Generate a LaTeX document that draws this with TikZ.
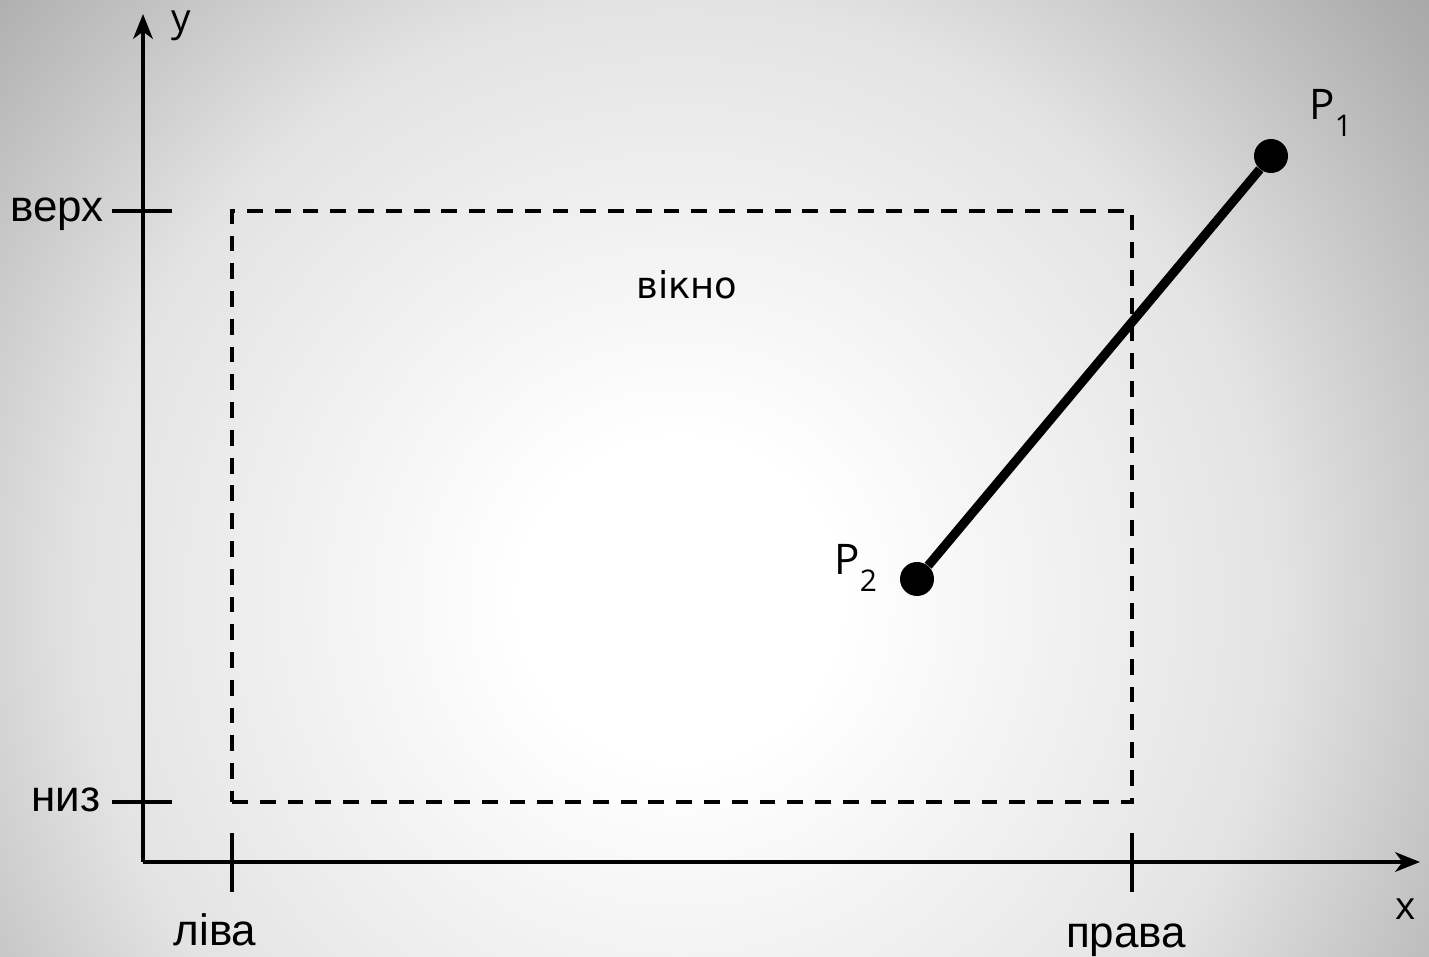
\documentclass[tikz,border=0pt]{standalone}
\usepackage{fontspec}
\setmainfont{Liberation Sans}
\newfontfamily\pfont{Open Sans}
\newfontfamily\winfont{DejaVu Sans}
\usetikzlibrary{arrows.meta, positioning}
\pgfdeclareradialshading{bgshade}{\pgfpoint{0bp}{0bp}}{color(0bp)=(white); color(4bp)=(white); color(15bp)=(black!11); color(23bp)=(black!32); color(25bp)=(black!36); color(50bp)=(black!36)}
\tikzset{
	axisline/.style={line width=2.5pt, -{Stealth[length=14pt, width=11pt, inset=4pt]}},
	tickline/.style={line width=2.5pt},
	winbox/.style={line width=2.2pt, dash pattern=on 9pt off 6.8pt},
	dotnode/.style={circle, fill=black, inner sep=0pt, minimum size=0.68cm},
	seglabel/.style={font=\pfont\fontsize{24}{28}\selectfont, inner sep=0pt, anchor=base west},
	ticklabel/.style={font=\fontsize{25}{29}\selectfont, inner sep=0pt},
}

\begin{document}
\begin{tikzpicture}[>=Stealth]
	\useasboundingbox (0,0) rectangle (28.58,19.14);

	% background
	\begin{scope}
		\clip (0,0) rectangle (28.58,19.14);
		\shade[shading=bgshade] (-6.4,-12.86) rectangle (33.6,27.14);
	\end{scope}

	% axes
	\coordinate (O) at (2.86,1.90);
	\coordinate (ytop) at (2.86,18.86);
	\coordinate (xend) at (28.40,1.90);
	\draw[axisline] (O) -- (ytop);
	\draw[axisline] (O) -- (xend);
	\node[font=\pfont\fontsize{22}{26}\selectfont, inner sep=0pt, anchor=base] (ylab) at (3.62,18.50) {y};
	\node[font=\pfont\fontsize{22}{26}\selectfont, inner sep=0pt, anchor=base] (xlab) at (28.12,0.74) {x};

	% ticks
	\coordinate (top1) at (2.24,14.92);
	\coordinate (top2) at (3.44,14.92);
	\coordinate (bot1) at (2.24,3.10);
	\coordinate (bot2) at (3.44,3.10);
	\coordinate (lft1) at (4.64,2.48);
	\coordinate (lft2) at (4.64,1.30);
	\coordinate (rgt1) at (22.64,2.48);
	\coordinate (rgt2) at (22.64,1.30);
	\draw[tickline] (top1) -- (top2);
	\draw[tickline] (bot1) -- (bot2);
	\draw[tickline] (lft1) -- (lft2);
	\draw[tickline] (rgt1) -- (rgt2);
	\node[ticklabel, anchor=base east] (verkh) at (2.08,14.70) {верх};
	\node[ticklabel, anchor=base east] (nyz) at (2.02,2.90) {низ};
	\node[ticklabel, anchor=base] (liva) at (4.30,0.24) {ліва};
	\node[ticklabel, anchor=base] (prava) at (22.52,0.20) {права};

	% window
	\node[winbox, draw, minimum width=18cm, minimum height=11.82cm, inner sep=0pt] (win) at (13.64,9.01) {};
	\node[font=\winfont\fontsize{21}{25}\selectfont, inner sep=0pt] (winlab) at (13.74,13.44) {вікно};

	% segment
	\node[dotnode] (p1) at (25.42,16.02) {};
	\node[dotnode] (p2) at (18.34,7.56) {};
	\draw[line width=5.2pt] (p1) -- (p2);
	\node[seglabel] (p1lab) at (26.18,16.74) {P\raisebox{-17\dimexpr 0.02cm\relax}{\fontsize{17}{20}\selectfont 1}};
	\node[seglabel] (p2lab) at (16.68,7.64) {P\raisebox{-17\dimexpr 0.02cm\relax}{\fontsize{17}{20}\selectfont 2}};
\end{tikzpicture}
\end{document}
